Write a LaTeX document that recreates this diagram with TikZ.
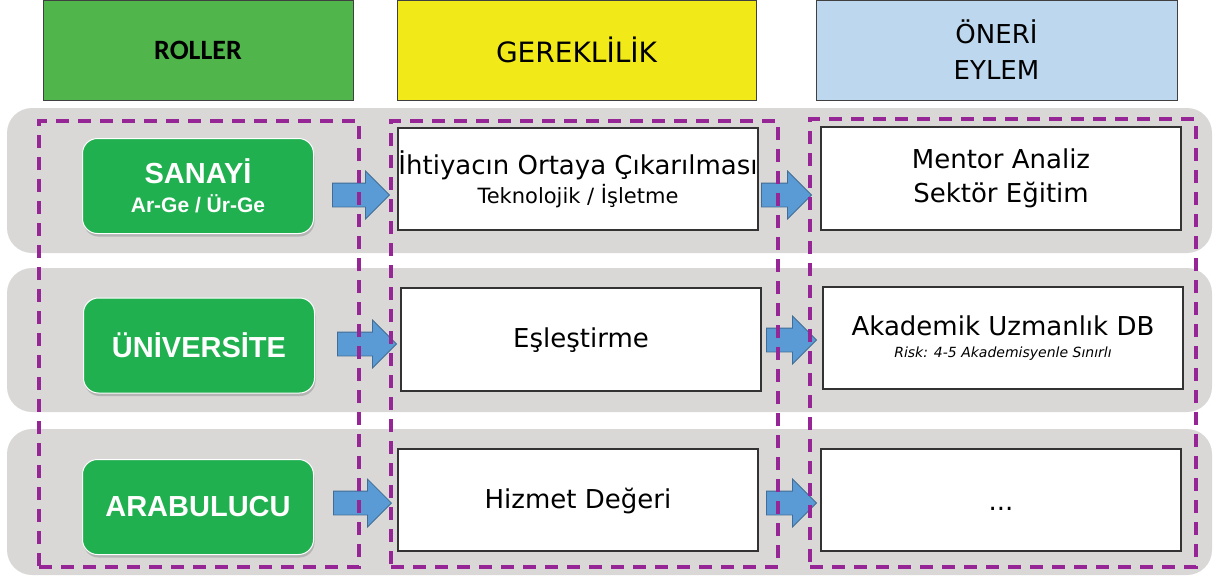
\documentclass[tikz,border=0pt]{standalone}
\usepackage{fontspec}
\setmainfont{DejaVu Sans}
\newfontfamily\btnfont{Liberation Sans}
\newfontfamily\hdfont{Carlito}
\usetikzlibrary{positioning,shapes.arrows,shadows}

\definecolor{hdgreen}{RGB}{80,182,75}
\definecolor{hdyellow}{RGB}{241,234,24}
\definecolor{hdblue}{RGB}{189,215,238}
\definecolor{bandgray}{RGB}{217,216,215}
\definecolor{framepurple}{RGB}{150,38,150}
\definecolor{btngreen}{RGB}{33,176,80}
\definecolor{arrowblue}{RGB}{91,155,213}

\begin{document}
\begin{tikzpicture}[
  x=1pt, y=-1pt,
  head_box/.style={
    draw=black!75,
    line width=0.8pt,
    minimum height=100pt,
    inner sep=0pt,
    align=center
  },
  row_band/.style={
    fill=bandgray,
    rounded corners=25pt,
    minimum width=1205pt,
    inner sep=0pt
  },
  group_frame/.style={
    draw=framepurple,
    line width=3.4pt,
    dash pattern=on 13pt off 9pt,
    inner sep=0pt
  },
  role_btn/.style={
    fill=btngreen,
    draw=white,
    line width=1pt,
    rounded corners=15pt,
    minimum width=231pt,
    minimum height=95pt,
    text=white,
    align=center,
    font=\btnfont\bfseries\fontsize{29pt}{29pt}\selectfont,
    drop shadow={shadow xshift=1pt, shadow yshift=-3pt, opacity=0.4}
  },
  text_box/.style={
    draw=black!80,
    line width=1.2pt,
    fill=white,
    minimum width=360pt,
    minimum height=102pt,
    inner sep=0pt,
    align=center,
    font=\fontsize{26pt}{34pt}\selectfont
  },
  flow_arrow/.style={
    single arrow,
    fill=arrowblue,
    draw=arrowblue!70!black,
    line width=0.8pt,
    inner xsep=0pt,
    inner ysep=11.5pt,
    single arrow head extend=12pt,
    anchor=tip
  }
]%
\useasboundingbox (0,0) rectangle (1215,578);

% column heads
\node [head_box, fill=hdgreen, minimum width=310pt,
  font=\hdfont\bfseries\fontsize{28pt}{34pt}\selectfont] (head_roles) at (198,50) {ROLLER};
\node [head_box, fill=hdyellow, minimum width=359pt,
  font=\fontsize{28pt}{34pt}\selectfont] (head_needs) at (576.5,50) {GEREKLİLİK};
\node [head_box, fill=hdblue, minimum width=361pt,
  font=\fontsize{26pt}{36pt}\selectfont] (head_actions) at (996.5,50) {ÖNERİ\\EYLEM};

% rows
\node [row_band, minimum height=145pt] (band1) at (609.5,180.5) {};
\node [row_band, minimum height=144pt] (band2) at (609.5,340) {};
\node [row_band, minimum height=146pt] (band3) at (609.5,502) {};

% roles
\node [role_btn] (role1) at (198,186)
  {SANAYİ\\{\fontsize{21pt}{29pt}\selectfont Ar-Ge / Ür-Ge}};
\node [role_btn] (role2) at (199,345.5) {ÜNİVERSİTE};
\node [role_btn] (role3) at (198,507) {ARABULUCU};

% needs
\node [text_box] (need1) at (578,179)
  {İhtiyacın Ortaya Çıkarılması\\[-5pt]{\fontsize{21pt}{29pt}\selectfont Teknolojik / İşletme}};
\node [text_box, minimum height=103pt, text height=20pt, text depth=4pt] (need2) at (581,339.5) {Eşleştirme};
\node [text_box, text height=20pt, text depth=4pt] (need3) at (578,500) {Hizmet Değeri};

% actions
\node [text_box, minimum height=103pt] (act1) at (1001,178.5) {Mentor Analiz\\Sektör Eğitim};
\node [text_box] (act2) at (1003,338)
  {Akademik Uzmanlık DB\\[-12pt]{\fontsize{14pt}{18pt}\selectfont\itshape Risk: 4-5 Akademisyenle Sınırlı}};
\node [text_box, text height=20pt, text depth=0pt] (act3) at (1001,500) {...};

% flow arrows
\node [flow_arrow, minimum height=57pt] (arr_r1) at (390,195) {};
\node [flow_arrow, minimum height=59pt] (arr_r2) at (397,344) {};
\node [flow_arrow, minimum height=58pt] (arr_r3) at (392,503) {};
\node [flow_arrow, minimum height=50pt] (arr_n1) at (812,195) {};
\node [flow_arrow, minimum height=50pt] (arr_n2) at (817,340) {};
\node [flow_arrow, minimum height=50pt] (arr_n3) at (817,503) {};

% column frames
\node [group_frame, minimum width=320pt, minimum height=446pt] (frame_roles) at (199,344) {};
\node [group_frame, minimum width=387pt, minimum height=446pt] (frame_needs) at (584.5,344) {};
\node [group_frame, minimum width=386pt, minimum height=448pt] (frame_actions) at (1003,343) {};
\end{tikzpicture}
\end{document}
